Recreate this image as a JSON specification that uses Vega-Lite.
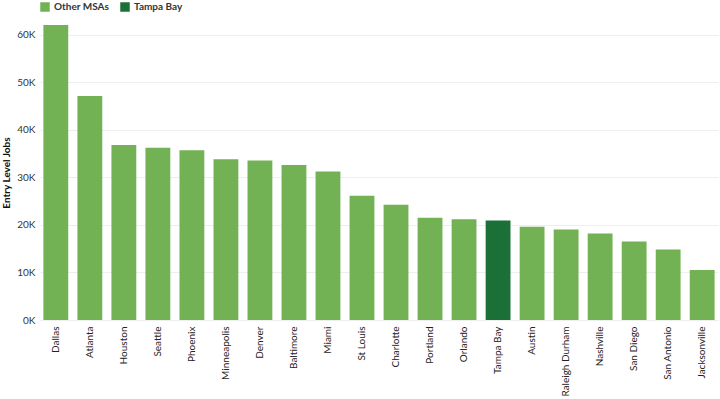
{
  "$schema": "https://vega.github.io/schema/vega-lite/v6.json",
  "width": 720,
  "height": 399,
  "autosize": {"type": "fit", "contains": "padding"},
  "padding": {"left": 1, "right": 2, "top": 2, "bottom": 2},
  "config": {
    "font": "Lato",
    "view": {"stroke": null},
    "axis": {"labelFont": "Lato", "titleFont": "Lato"}
  },
  "data": {
    "values": [
      {"msa": "Dallas", "jobs": 62000, "group": "Other MSAs"},
      {"msa": "Atlanta", "jobs": 47100, "group": "Other MSAs"},
      {"msa": "Houston", "jobs": 36800, "group": "Other MSAs"},
      {"msa": "Seattle", "jobs": 36200, "group": "Other MSAs"},
      {"msa": "Phoenix", "jobs": 35700, "group": "Other MSAs"},
      {"msa": "Minneapolis", "jobs": 33800, "group": "Other MSAs"},
      {"msa": "Denver", "jobs": 33500, "group": "Other MSAs"},
      {"msa": "Baltimore", "jobs": 32600, "group": "Other MSAs"},
      {"msa": "Miami", "jobs": 31200, "group": "Other MSAs"},
      {"msa": "St Louis", "jobs": 26100, "group": "Other MSAs"},
      {"msa": "Charlotte", "jobs": 24200, "group": "Other MSAs"},
      {"msa": "Portland", "jobs": 21500, "group": "Other MSAs"},
      {"msa": "Orlando", "jobs": 21200, "group": "Other MSAs"},
      {"msa": "Tampa Bay", "jobs": 20900, "group": "Tampa Bay"},
      {"msa": "Austin", "jobs": 19600, "group": "Other MSAs"},
      {"msa": "Raleigh Durham", "jobs": 19000, "group": "Other MSAs"},
      {"msa": "Nashville", "jobs": 18200, "group": "Other MSAs"},
      {"msa": "San Diego", "jobs": 16500, "group": "Other MSAs"},
      {"msa": "San Antonio", "jobs": 14800, "group": "Other MSAs"},
      {"msa": "Jacksonville", "jobs": 10500, "group": "Other MSAs"}
    ]
  },
  "mark": {"type": "bar"},
  "encoding": {
    "x": {
      "field": "msa",
      "type": "nominal",
      "sort": null,
      "scale": {"paddingInner": 0.27, "paddingOuter": 0.1},
      "axis": {
        "title": null,
        "labelAngle": -90,
        "labelFontSize": 10,
        "labelColor": "#222",
        "ticks": false,
        "domain": false,
        "labelPadding": 6
      }
    },
    "y": {
      "field": "jobs",
      "type": "quantitative",
      "scale": {"domain": [0, 62000], "nice": false},
      "axis": {
        "title": "Entry Level Jobs",
        "titleFontSize": 10,
        "titleFontWeight": "bold",
        "titleColor": "#111",
        "labelFontSize": 10,
        "labelColor": "#333",
        "values": [0, 10000, 20000, 30000, 40000, 50000, 60000],
        "labelExpr": "datum.value / 1000 + 'K'",
        "ticks": false,
        "domain": false,
        "gridColor": "#eeeeee",
        "labelPadding": 5,
        "titlePadding": 5
      }
    },
    "color": {
      "field": "group",
      "type": "nominal",
      "scale": {"domain": ["Other MSAs", "Tampa Bay"], "range": ["#72b154", "#1a7037"]},
      "legend": {
        "title": null,
        "orient": "top",
        "direction": "horizontal",
        "symbolType": "square",
        "symbolSize": 90,
        "symbolStrokeWidth": 0,
        "labelFontSize": 10,
        "labelFontWeight": "bold",
        "labelColor": "#333",
        "offset": 13
      }
    }
  }
}
